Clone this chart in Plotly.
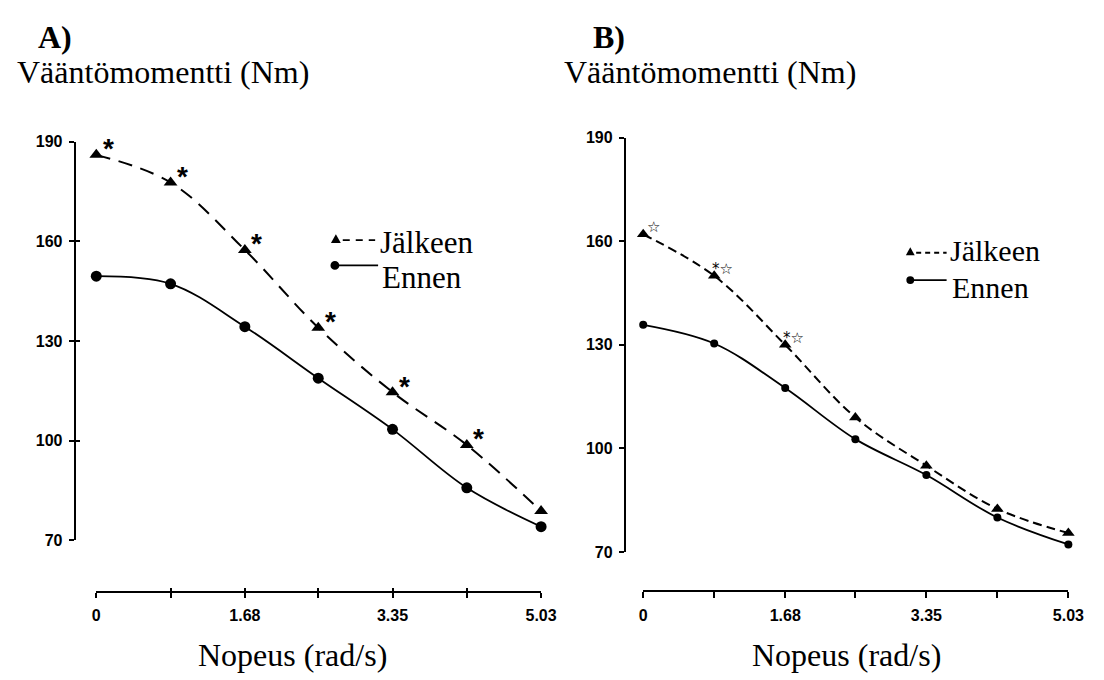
import plotly.graph_objects as go

W, H = 1104, 680

# ---- data ----
speed = [0, 0.84, 1.68, 2.51, 3.35, 4.19, 5.03]
x_label_vals = [0, 1.68, 3.35, 5.03]
x_label_text = ["0", "1.68", "3.35", "5.03"]
x_minor_vals = [0.84, 2.51, 4.19]
y_ticks = [70, 100, 130, 160, 190]

a_jalkeen = [186.0, 177.7, 157.4, 134.0, 114.6, 98.7, 78.8]
a_ennen = [149.5, 147.2, 134.3, 118.8, 103.4, 85.8, 74.1]
a_sig = [1, 1, 1, 1, 1, 1, 0]

b_jalkeen = [162.0, 150.0, 130.0, 109.0, 95.0, 82.5, 75.5]
b_ennen = [135.8, 130.4, 117.5, 102.7, 92.3, 80.0, 72.2]
b_sig = [1, 1, 1, 0, 0, 0, 0]

SERIF = "Liberation Serif"
SANS = "Liberation Sans"


def fx(p):
    return p / W


def fy(p):
    return 1 - p / H


fig = go.Figure()

# Panel A
fig.add_trace(go.Scatter(x=speed, y=a_jalkeen, mode="lines+markers", name="Jälkeen",
                         line=dict(color="black", width=2, dash="14px,9px", shape="spline"),
                         marker=dict(symbol="triangle-up", size=12, color="black"),
                         cliponaxis=False, showlegend=False, xaxis="x", yaxis="y"))
fig.add_trace(go.Scatter(x=speed, y=a_ennen, mode="lines+markers", name="Ennen",
                         line=dict(color="black", width=1.8, shape="spline"),
                         marker=dict(symbol="circle", size=11, color="black"),
                         cliponaxis=False, showlegend=False, xaxis="x", yaxis="y"))
# Panel B
fig.add_trace(go.Scatter(x=speed, y=b_jalkeen, mode="lines+markers", name="Jälkeen",
                         line=dict(color="black", width=2, dash="9px,5px", shape="spline"),
                         marker=dict(symbol="triangle-up", size=11, color="black"),
                         cliponaxis=False, showlegend=False, xaxis="x2", yaxis="y2"))
fig.add_trace(go.Scatter(x=speed, y=b_ennen, mode="lines+markers", name="Ennen",
                         line=dict(color="black", width=1.8, shape="spline"),
                         marker=dict(symbol="circle", size=8, color="black"),
                         cliponaxis=False, showlegend=False, xaxis="x2", yaxis="y2"))
# dummy for overlay axes (crossing ticks in panel A)
fig.add_trace(go.Scatter(x=[None], y=[None], xaxis="x3", yaxis="y3", showlegend=False,
                         hoverinfo="skip"))

annotations = []
# significance stars
for xv, yv, s in zip(speed, a_jalkeen, a_sig):
    if s:
        annotations.append(dict(x=xv, y=yv, xref="x", yref="y", text="<b>*</b>", showarrow=False,
                                xshift=12, yshift=6,
                                font=dict(family=SANS, size=28, color="black")))
for i, (xv, yv, s) in enumerate(zip(speed, b_jalkeen, b_sig)):
    if s:
        label = "☆" if i == 0 else "*☆"
        annotations.append(dict(x=xv, y=yv, xref="x2", yref="y2", text=label, showarrow=False,
                                xshift=10 if i == 0 else 8, yshift=7,
                                font=dict(family="DejaVu Sans", size=15, color="black")))

# texts
def txt(text, x, y, size, bold=False, xanchor="left"):
    t = f"<b>{text}</b>" if bold else text
    annotations.append(dict(x=fx(x), y=fy(y), xref="paper", yref="paper", text=t,
                            showarrow=False, xanchor=xanchor, yanchor="middle",
                            font=dict(family=SERIF, size=size, color="black")))

txt("A)", 33, 30, 32, bold=True)
txt("Vääntömomentti (Nm)", 11, 66, 32)
txt("B)", 598, 30, 32, bold=True)
txt("Vääntömomentti (Nm)", 568, 66, 32)
txt("Nopeus (rad/s)", 294, 664, 32, xanchor="center")
txt("Nopeus (rad/s)", 858, 664, 32, xanchor="center")
# legend texts
txt("Jälkeen", 381, 240, 31)
txt("Ennen", 383, 276, 31)
txt("Jälkeen", 961, 249, 30)
txt("Ennen", 963, 287, 30)

shapes = []


def tri(x, y, r):
    shapes.append(dict(type="path", xref="paper", yref="paper",
                       path=f"M {fx(x - r)},{fy(y + r * 0.8)} L {fx(x + r)},{fy(y + r * 0.8)} L {fx(x)},{fy(y - r)} Z",
                       fillcolor="black", line=dict(color="black", width=0)))


def dot(x, y, r):
    shapes.append(dict(type="circle", xref="paper", yref="paper",
                       x0=fx(x - r), x1=fx(x + r), y0=fy(y + r), y1=fy(y - r),
                       fillcolor="black", line=dict(color="black", width=0)))


def seg(x0, x1, y, dash=None, width=1.8):
    shapes.append(dict(type="line", xref="paper", yref="paper",
                       x0=fx(x0), x1=fx(x1), y0=fy(y), y1=fy(y),
                       line=dict(color="black", width=width, dash=dash or "solid")))

# legend A
tri(338, 237, 5)
seg(345, 378, 238, dash="7px,6px")
dot(337, 264, 4.5)
seg(341, 381, 264)
# legend B
tri(923, 250, 4.5)
seg(929, 960, 251, dash="5px,4px")
dot(923, 279, 4)
seg(926, 960, 279)

tickfont = dict(family=SANS, size=16, color="black", weight="bold")
axis_common = dict(showgrid=False, zeroline=False, color="black", tickfont=tickfont)

fig.update_layout(
    width=W, height=H,
    margin=dict(l=0, r=0, t=0, b=0),
    paper_bgcolor="white", plot_bgcolor="white",
    showlegend=False,
    annotations=annotations,
    shapes=shapes,
    xaxis=dict(domain=[fx(94), fx(547)], range=[0, 5.03], anchor="free", position=fy(599),
               showline=True, linewidth=2, linecolor="black", ticks="outside", ticklen=5,
               tickwidth=1.5, tickcolor="black", tickvals=x_label_vals, ticktext=x_label_text,
               minor=dict(tickvals=x_minor_vals, ticks="outside", ticklen=5, tickwidth=1.5,
                          tickcolor="black", showgrid=False),
               ticklabelstandoff=4, **axis_common),
    yaxis=dict(domain=[fy(546), fy(137)], range=[70, 190], anchor="free", position=fx(72),
               showline=True, linewidth=2, linecolor="black", ticks="outside", ticklen=5,
               tickwidth=1.5, tickcolor="black", tickvals=y_ticks, ticklabelstandoff=3,
               **axis_common),
    xaxis3=dict(overlaying="x", range=[0, 5.03], anchor="free", position=fy(599),
                showline=False, ticks="inside", ticklen=4, tickwidth=1.5, tickcolor="black",
                tickvals=speed, showticklabels=False, **axis_common),
    yaxis3=dict(overlaying="y", range=[70, 190], anchor="free", position=fx(72),
                showline=False, ticks="inside", ticklen=4, tickwidth=1.5, tickcolor="black",
                tickvals=y_ticks, showticklabels=False, **axis_common),
    xaxis2=dict(domain=[fx(651), fx(1084)], range=[0, 5.03], anchor="free", position=fy(598),
                showline=True, linewidth=2, linecolor="black", ticks="outside", ticklen=6,
                tickwidth=1.5, tickcolor="black", tickvals=x_label_vals, ticktext=x_label_text,
                minor=dict(tickvals=x_minor_vals, ticks="outside", ticklen=6, tickwidth=1.5,
                           tickcolor="black", showgrid=False),
                ticklabelstandoff=4, **axis_common),
    yaxis2=dict(domain=[fy(558), fy(133)], range=[70, 190], anchor="free", position=fx(632),
                showline=True, linewidth=1.5, linecolor="black", ticks="outside", ticklen=5,
                tickwidth=1.5, tickcolor="black", tickvals=y_ticks, ticklabelstandoff=3,
                **axis_common),
)

fig.write_html("out.html", config={"displayModeBar": False},
               post_script="document.body.style.margin='0';")
